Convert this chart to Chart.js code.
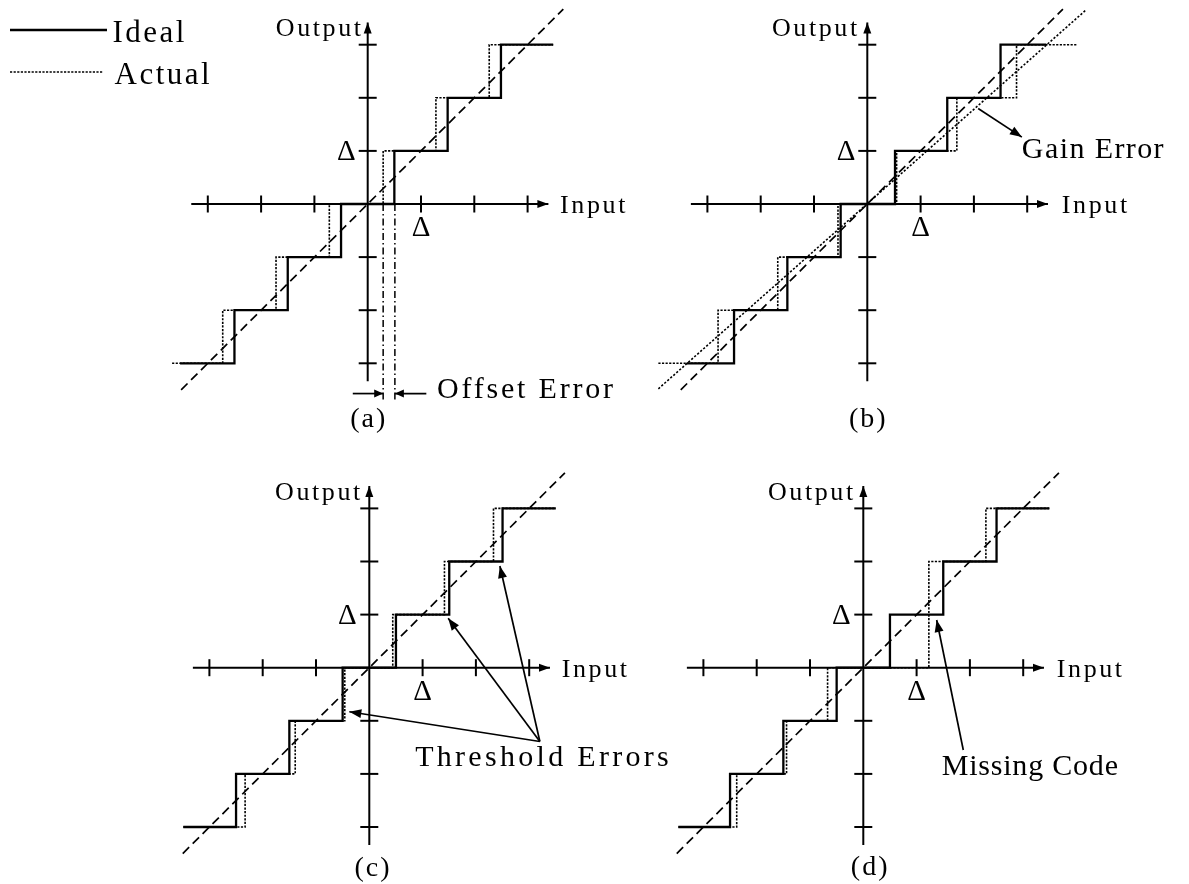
<!DOCTYPE html>
<html>
<head>
<meta charset="utf-8">
<script src="https://cdn.jsdelivr.net/npm/chart.js@4/dist/chart.umd.min.js"></script>
<style>
  html, body { margin: 0; padding: 0; background: #fff; }
  #page { position: relative; width: 1189px; height: 884px; overflow: hidden; background: #fff; }
  #page canvas { position: absolute; }
</style>
</head>
<body>
<div id="page">
  <canvas id="panelA" width="700" height="440" style="left:0px;top:0px"></canvas>
  <canvas id="panelB" width="549" height="440" style="left:640px;top:0px"></canvas>
  <canvas id="panelC" width="700" height="454" style="left:0px;top:430px"></canvas>
  <canvas id="panelD" width="549" height="454" style="left:640px;top:430px"></canvas>
</div>
<script>
// ---- shared axis values (in units of one LSB, Δ) ----
const codes = [-3, -2, -1, 0, 1, 2, 3];
const tickValues = [-3, -2, -1, 1, 2, 3];
const axisXSpan = [-3.31, 3.39];
const axisYSpan = [-3.34, 3.42];
const idealLineSpan = [-3.5, 3.67];
const legendLabels = ['Ideal', 'Actual'];

// ---- (a) offset error ----
const idealThresholdsA = [-2.5, -1.5, -0.5, 0.5, 1.5, 2.5];
const actualThresholdsA = [-2.72, -1.72, -0.72, 0.29, 1.28, 2.28];
const idealSpanA = [-3.52, 3.48];
const actualSpanA = [-3.67, 3.48];
const offsetGuideX = [0.29, 0.51];
const offsetGuideSpan = [0, -3.74];
const offsetArrowY = -3.57;
const offsetArrowTails = [-0.28, 1.10];

// ---- (b) gain error ----
const idealThresholdsB = [-2.5, -1.5, -0.5, 0.52, 1.5, 2.5];
const actualThresholdsB = [-2.8, -1.68, -0.55, 0.55, 1.68, 2.8];
const idealSpanB = [-3.39, 3.36];
const actualSpanB = [-3.92, 3.93];
const gainLineX = [-3.92, 4.11];
const gainLineY = [-3.48, 3.66];
const gainArrowFrom = [2.08, 1.80];
const gainArrowTo = [2.90, 1.26];

// ---- (c) threshold errors ----
const idealThresholdsC = [-2.5, -1.5, -0.5, 0.5, 1.5, 2.5];
const actualThresholdsC = [-2.33, -1.39, -0.46, 0.44, 1.41, 2.33];
const spanC = [-3.49, 3.5];
const thresholdArrowFrom = [3.2, -1.39];
const thresholdArrowTo = [[-0.375, -0.83], [1.48, 0.93], [2.45, 1.915]];

// ---- (d) missing code ----
const idealThresholdsD = [-2.5, -1.5, -0.5, 0.5, 1.5, 2.5];
const actualThresholdsD = [-2.375, -1.44, -0.67, 1.23, 2.3];
const actualCodesD = [-3, -2, -1, 0, 2, 3];
const spanD = [-3.47, 3.49];
const missingArrowFrom = [1.876, -1.55];
const missingArrowTo = [1.377, 0.898];

// ---- drawing styles ----
const INK = '#000';
const FAMILY = '"Liberation Serif", "Times New Roman", serif';
const FONTS = {
  axis:    { size: 26, spacing: 2.6 },
  delta:   { size: 29, spacing: 0 },
  note:    { size: 30, spacing: 2.2 },
  caption: { size: 28, spacing: 2 },
  legend:  { size: 31, spacing: 2.5 }
};
const idealStyle  = { borderWidth: 2.3, borderDash: [] };
const actualStyle = { borderWidth: 1.6, borderDash: [2.2, 1.4] };
const refStyle    = { borderWidth: 1.7, borderDash: [9, 5] };
const gainStyle   = { borderWidth: 1.6, borderDash: [2.2, 1.8] };
const guideStyle  = { borderWidth: 1.5, borderDash: [7, 3, 1.5, 3] };
const axisStyle   = { borderWidth: 2, borderDash: [] };
const pointerStyle = { borderWidth: 1.7, borderDash: [] };
const UX = 53.3, UY = 53.1;   // pixels per Δ

// ---- dataset helpers ----
function pt(p) { return { x: p[0], y: p[1] }; }

function staircase(thresholds, levels, span) {
  const pts = [{ x: span[0], y: levels[0] }];
  thresholds.forEach((t, i) => pts.push({ x: t, y: levels[i + 1] }));
  pts.push({ x: span[1], y: levels[levels.length - 1] });
  return pts;
}

function lineSet(points, style, extra) {
  return Object.assign({
    data: points, borderColor: INK, backgroundColor: INK,
    pointRadius: 0, fill: false, tension: 0, showLine: true,
    borderCapStyle: 'butt'
  }, style, extra || {});
}

function axesSets() {
  return [
    lineSet([{ x: axisXSpan[0], y: 0 }, { x: axisXSpan[1], y: 0 }], axisStyle, { arrowHead: { length: 11, width: 8 } }),
    lineSet([{ x: 0, y: axisYSpan[0] }, { x: 0, y: axisYSpan[1] }], axisStyle, { arrowHead: { length: 11, width: 8 } }),
    { data: tickValues.map(v => ({ x: v, y: 0 })), showLine: false, pointStyle: 'line',
      pointRadius: 8.5, pointRotation: 90, pointBorderWidth: 2, pointBorderColor: INK, pointBackgroundColor: INK },
    { data: tickValues.map(v => ({ x: 0, y: v })), showLine: false, pointStyle: 'line',
      pointRadius: 9, pointRotation: 0, pointBorderWidth: 2, pointBorderColor: INK, pointBackgroundColor: INK }
  ];
}

function referenceLine() {
  return lineSet([{ x: idealLineSpan[0], y: idealLineSpan[0] }, { x: idealLineSpan[1], y: idealLineSpan[1] }], refStyle);
}

function pointer(from, to, head) {
  return lineSet([pt(from), pt(to)], pointerStyle, { arrowHead: head || { length: 12, width: 9 } });
}

// ---- plugins ----
const arrowHeads = {
  id: 'arrowHeads',
  afterDatasetsDraw(chart) {
    const ctx = chart.ctx;
    chart.data.datasets.forEach((ds, i) => {
      if (!ds.arrowHead) return;
      const pts = chart.getDatasetMeta(i).data;
      const tip = pts[pts.length - 1], prev = pts[pts.length - 2];
      const ang = Math.atan2(tip.y - prev.y, tip.x - prev.x);
      ctx.save();
      ctx.translate(tip.x, tip.y);
      ctx.rotate(ang);
      ctx.beginPath();
      ctx.moveTo(0, 0);
      ctx.lineTo(-ds.arrowHead.length, ds.arrowHead.width / 2);
      ctx.lineTo(-ds.arrowHead.length, -ds.arrowHead.width / 2);
      ctx.closePath();
      ctx.fillStyle = INK;
      ctx.fill();
      ctx.restore();
    });
  }
};

function textPlugin(items) {
  return {
    id: 'panelText',
    afterDatasetsDraw(chart) {
      const ctx = chart.ctx, sx = chart.scales.x, sy = chart.scales.y;
      items.forEach(it => {
        const f = FONTS[it.kind];
        const spacing = it.spacing !== undefined ? it.spacing : f.spacing;
        ctx.save();
        ctx.font = f.size + 'px ' + FAMILY;
        ctx.letterSpacing = spacing + 'px';
        ctx.fillStyle = INK;
        ctx.textAlign = it.align || 'left';
        ctx.textBaseline = 'alphabetic';
        let px = sx.getPixelForValue(it.x);
        if (ctx.textAlign === 'right') px += spacing;
        if (ctx.textAlign === 'center') px += spacing / 2;
        ctx.fillText(it.text, px, sy.getPixelForValue(it.y));
        ctx.restore();
      });
    }
  };
}

// legend drawn in the top-left corner of panel (a)
const legendPlugin = {
  id: 'lineLegend',
  afterDatasetsDraw(chart) {
    const ctx = chart.ctx;
    const rows = [
      { label: legendLabels[0], style: idealStyle, x0: 10, x1: 107, y: 30, tx: 112.5, ty: 41.5 },
      { label: legendLabels[1], style: actualStyle, x0: 10, x1: 103, y: 72, tx: 114.5, ty: 84 }
    ];
    rows.forEach(r => {
      ctx.save();
      ctx.strokeStyle = INK;
      ctx.lineWidth = r.style.borderWidth;
      ctx.setLineDash(r.style.borderDash);
      ctx.beginPath();
      ctx.moveTo(r.x0, r.y);
      ctx.lineTo(r.x1, r.y);
      ctx.stroke();
      ctx.setLineDash([]);
      ctx.font = FONTS.legend.size + 'px ' + FAMILY;
      ctx.letterSpacing = FONTS.legend.spacing + 'px';
      ctx.fillStyle = INK;
      ctx.textBaseline = 'alphabetic';
      ctx.fillText(r.label, r.tx, r.ty);
      ctx.restore();
    });
  }
};

function commonTexts(outX, inX, dyX, caption, capX, capY) {
  return [
    { text: 'Output', x: outX, y: 3.16, align: 'right', kind: 'axis' },
    { text: 'Input', x: inX, y: -0.17, align: 'left', kind: 'axis' },
    { text: 'Δ', x: dyX, y: 0.83, align: 'center', kind: 'delta' },
    { text: 'Δ', x: 1.0, y: -0.61, align: 'center', kind: 'delta' },
    { text: caption, x: capX, y: capY, align: 'center', kind: 'caption' }
  ];
}

// ---- panel layouts (page pixels) ----
const panels = [
  {
    id: 'panelA', box: { left: 0, top: 0, width: 700, height: 440 }, origin: { x: 367.7, y: 204 },
    datasets: [
      lineSet(staircase(idealThresholdsA, codes, idealSpanA), idealStyle, { stepped: 'before' }),
      lineSet(staircase(actualThresholdsA, codes, actualSpanA), actualStyle, { stepped: 'before' }),
      referenceLine(),
      lineSet([{ x: offsetGuideX[0], y: offsetGuideSpan[0] }, { x: offsetGuideX[0], y: offsetGuideSpan[1] }], guideStyle),
      lineSet([{ x: offsetGuideX[1], y: offsetGuideSpan[0] }, { x: offsetGuideX[1], y: offsetGuideSpan[1] }], guideStyle),
      pointer([offsetArrowTails[0], offsetArrowY], [offsetGuideX[0], offsetArrowY], { length: 9, width: 8 }),
      pointer([offsetArrowTails[1], offsetArrowY], [offsetGuideX[1], offsetArrowY], { length: 9, width: 8 })
    ].concat(axesSets()),
    texts: commonTexts(-0.126, 3.61, -0.40, '(a)', 0, -4.2).concat([
      { text: 'Offset Error', x: 1.30, y: -3.65, align: 'left', kind: 'note', spacing: 2.8 }
    ]),
    legend: true
  },
  {
    id: 'panelB', box: { left: 640, top: 0, width: 549, height: 440 }, origin: { x: 867.3, y: 204 },
    datasets: [
      lineSet(staircase(idealThresholdsB, codes, idealSpanB), idealStyle, { stepped: 'before' }),
      lineSet(staircase(actualThresholdsB, codes, actualSpanB), actualStyle, { stepped: 'before' }),
      referenceLine(),
      lineSet([{ x: gainLineX[0], y: gainLineY[0] }, { x: gainLineX[1], y: gainLineY[1] }], gainStyle),
      pointer(gainArrowFrom, gainArrowTo)
    ].concat(axesSets()),
    texts: commonTexts(-0.19, 3.65, -0.40, '(b)', 0, -4.2).concat([
      { text: 'Gain Error', x: 2.90, y: 0.86, align: 'left', kind: 'note', spacing: 1.4 }
    ])
  },
  {
    id: 'panelC', box: { left: 0, top: 430, width: 700, height: 454 }, origin: { x: 369.3, y: 667.7 },
    datasets: [
      lineSet(staircase(idealThresholdsC, codes, spanC), idealStyle, { stepped: 'before' }),
      lineSet(staircase(actualThresholdsC, codes, spanC), actualStyle, { stepped: 'before' }),
      referenceLine()
    ].concat(thresholdArrowTo.map(t => pointer(thresholdArrowFrom, t))).concat(axesSets()),
    texts: commonTexts(-0.17, 3.61, -0.41, '(c)', 0.05, -3.93).concat([
      { text: 'Threshold Errors', x: 0.86, y: -1.86, align: 'left', kind: 'note', spacing: 3.3 }
    ])
  },
  {
    id: 'panelD', box: { left: 640, top: 430, width: 549, height: 454 }, origin: { x: 863.3, y: 667.7 },
    datasets: [
      lineSet(staircase(idealThresholdsD, codes, spanD), idealStyle, { stepped: 'before' }),
      lineSet(staircase(actualThresholdsD, actualCodesD, spanD), actualStyle, { stepped: 'before' }),
      referenceLine(),
      pointer(missingArrowFrom, missingArrowTo)
    ].concat(axesSets()),
    texts: commonTexts(-0.19, 3.63, -0.41, '(d)', 0.11, -3.9).concat([
      { text: 'Missing Code', x: 1.47, y: -2.02, align: 'left', kind: 'note', spacing: 0.8 }
    ])
  }
];

panels.forEach(p => {
  const b = p.box, o = p.origin;
  const plugins = [arrowHeads, textPlugin(p.texts)];
  if (p.legend) plugins.push(legendPlugin);
  new Chart(document.getElementById(p.id), {
    type: 'line',
    data: { datasets: p.datasets },
    options: {
      responsive: false,
      animation: false,
      events: [],
      devicePixelRatio: 1,
      layout: { padding: 0, autoPadding: false },
      plugins: { legend: { display: false }, tooltip: { enabled: false } },
      scales: {
        x: { type: 'linear', display: false,
             min: (b.left - o.x) / UX, max: (b.left + b.width - o.x) / UX },
        y: { type: 'linear', display: false,
             min: (o.y - (b.top + b.height)) / UY, max: (o.y - b.top) / UY }
      }
    },
    plugins: plugins
  });
});
</script>
</body>
</html>
